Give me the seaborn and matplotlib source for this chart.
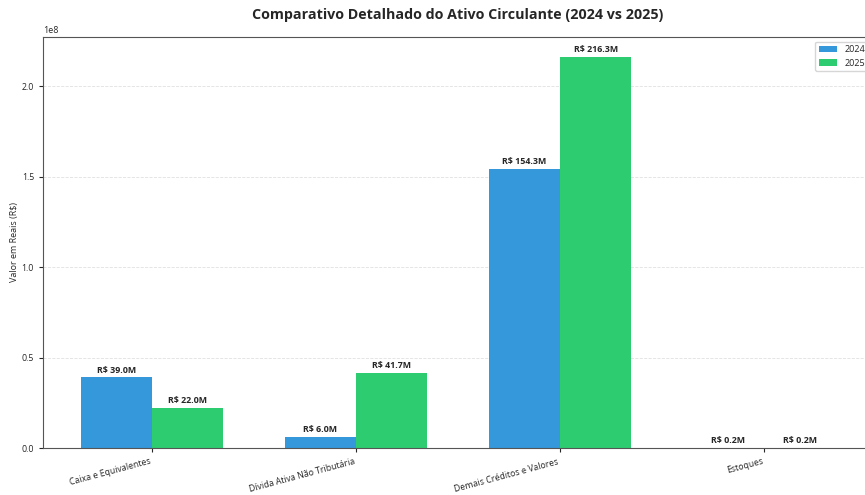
import matplotlib
matplotlib.use("Agg")
import matplotlib.pyplot as plt
import seaborn as sns
import pandas as pd

categorias = ["Caixa e Equivalentes", "Dívida Ativa Não Tributária",
              "Demais Créditos e Valores", "Estoques"]
valores_2024 = [39.0e6, 6.0e6, 154.3e6, 0.2e6]
valores_2025 = [22.0e6, 41.7e6, 216.3e6, 0.2e6]
anos = ["2024", "2025"]
cores = ["#3498db", "#2ecc71"]

df = pd.DataFrame({
    "Categoria": categorias * 2,
    "Ano": [anos[0]] * 4 + [anos[1]] * 4,
    "Valor": valores_2024 + valores_2025,
})

sns.set_style("white")
plt.rcParams["font.family"] = ["Open Sans", "DejaVu Sans"]

fig = plt.figure(figsize=(8.65, 4.95), dpi=100)
ax = fig.add_axes([43 / 865, 47 / 495, 830 / 865, 411 / 495])

sns.barplot(data=df, x="Categoria", y="Valor", hue="Ano", palette=cores,
            width=0.7, ax=ax, saturation=1, errorbar=None, linewidth=0)

for cont in ax.containers:
    ax.bar_label(cont, labels=[f"R\\$ {v.get_height() / 1e6:.1f}M" for v in cont],
                 fontsize=6.4, fontweight="bold", padding=2)

ax.set_xlim(-0.535, 3.535)
ax.set_ylim(0, 216.3e6 * 1.05)
ax.set_title("Comparativo Detalhado do Ativo Circulante (2024 vs 2025)",
             fontsize=10.3, fontweight="bold", pad=13)
ax.set_xlabel("")
ax.set_ylabel("Valor em Reais (R$)", fontsize=6.5, labelpad=2)
ax.tick_params(axis="both", labelsize=6.3, length=3, bottom=True, left=True)
plt.setp(ax.get_xticklabels(), rotation=15, ha="right")
ax.yaxis.get_offset_text().set_fontsize(6.5)
ax.grid(axis="y", linestyle="--", alpha=0.6, linewidth=0.6)
ax.set_axisbelow(True)
for s in ax.spines.values():
    s.set_color("#555555")
ax.legend(loc="upper right", fontsize=6.5, title=None)

fig.savefig("out.png", dpi=100)
